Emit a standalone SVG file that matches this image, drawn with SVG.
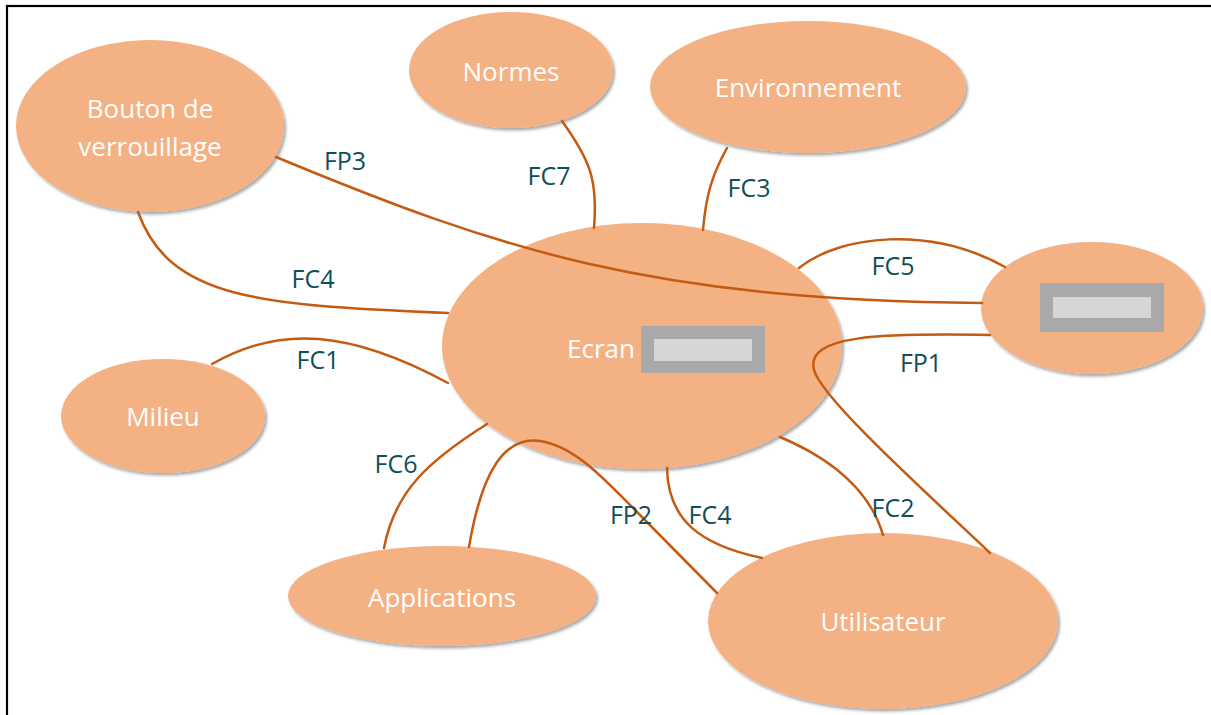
<svg xmlns="http://www.w3.org/2000/svg" width="1211" height="715" viewBox="0 0 1211 715">
  <defs>
    <filter id="shadow" x="-10%" y="-10%" width="125%" height="130%">
      <feDropShadow dx="2" dy="2.5" stdDeviation="1.8" flood-color="#000" flood-opacity="0.35"/>
    </filter>
  </defs>
  <style>
    .node ellipse { fill: #F4B183; filter: url(#shadow); }
    .node text { fill: #FFFFFF; font-family: "Open Sans", "Liberation Sans", sans-serif; font-size: 26px; text-anchor: middle; dominant-baseline: central; }
    .screen-outer { fill: #A9A9A9; }
    .screen-inner { fill: #D6D6D6; }
    .link { fill: none; stroke: #C55A11; stroke-width: 2.5; stroke-linecap: round; }
    .lbl { fill: #0E5057; font-family: "Open Sans", "Liberation Sans", sans-serif; font-size: 25px; text-anchor: middle; dominant-baseline: central; }
  </style>

  <rect width="1211" height="715" fill="#FFFFFF"/>
  <!-- page frame -->
  <rect x="7" y="6" width="1230" height="730" fill="none" stroke="#000" stroke-width="2.2"/>

  <g id="node-bouton" class="node">
    <ellipse cx="150" cy="126" rx="134" ry="86"/>
    <text x="150" y="108">Bouton de</text>
    <text x="150" y="146">verrouillage</text>
  </g>
  <g id="node-normes" class="node">
    <ellipse cx="511" cy="70" rx="102" ry="58"/>
    <text x="511" y="71">Normes</text>
  </g>
  <g id="node-environnement" class="node">
    <ellipse cx="808" cy="87" rx="158" ry="66"/>
    <text x="808" y="87">Environnement</text>
  </g>
  <g id="node-ecran" class="node">
    <ellipse cx="642" cy="346" rx="200" ry="123"/>
    <text x="601" y="348">Ecran</text>
    <rect class="screen-outer" x="641" y="326" width="124" height="47"/>
    <rect class="screen-inner" x="654" y="339" width="98" height="22"/>
  </g>
  <g id="node-ecran-ext" class="node">
    <ellipse cx="1092" cy="308" rx="111" ry="66"/>
    <rect class="screen-outer" x="1040" y="283" width="124" height="49"/>
    <rect class="screen-inner" x="1053" y="297" width="98" height="21"/>
  </g>
  <g id="node-milieu" class="node">
    <ellipse cx="163" cy="416" rx="102" ry="57"/>
    <text x="163" y="416">Milieu</text>
  </g>
  <g id="node-applications" class="node">
    <ellipse cx="442" cy="596" rx="154" ry="50"/>
    <text x="442" y="597">Applications</text>
  </g>
  <g id="node-utilisateur" class="node">
    <ellipse cx="883" cy="621" rx="175" ry="88"/>
    <text x="883" y="621">Utilisateur</text>
  </g>

  <g id="connectors">
    <!-- FP3 -->
    <path class="link" d="M276,157 C500,250 650,300 982,303"/>
    <!-- FC4 bouton / ecran -->
    <path class="link" d="M138,212 C170,300 260,305 448,313"/>
    <!-- FC1 -->
    <path class="link" d="M212,364 C280,325 350,330 448,383"/>
    <!-- FC7 -->
    <path class="link" d="M562,121 C590,160 598,180 594,228"/>
    <!-- FC3 -->
    <path class="link" d="M727,148 C712,175 706,195 703,230"/>
    <!-- FC5 -->
    <path class="link" d="M799,268 C840,235 930,225 1005,267"/>
    <!-- FP1 -->
    <path class="link" d="M990,335 C880,333 805,335 814,370 C822,400 940,505 990,553"/>
    <!-- FC2 -->
    <path class="link" d="M780,437 C830,458 870,490 883,535"/>
    <!-- FC4 ecran / utilisateur -->
    <path class="link" d="M667,468 C668,520 700,545 762,558"/>
    <!-- FP2 -->
    <path class="link" d="M469,547 C482,470 505,436 540,441 C575,446 605,480 640,515 L717,593"/>
    <!-- FC6 -->
    <path class="link" d="M487,424 C430,460 395,490 384,548"/>
  </g>

  <g id="labels">
    <text class="lbl" x="345" y="160">FP3</text>
    <text class="lbl" x="549" y="175">FC7</text>
    <text class="lbl" x="749" y="187">FC3</text>
    <text class="lbl" x="313" y="278">FC4</text>
    <text class="lbl" x="893" y="265">FC5</text>
    <text class="lbl" x="318" y="359">FC1</text>
    <text class="lbl" x="921" y="362">FP1</text>
    <text class="lbl" x="396" y="463">FC6</text>
    <text class="lbl" x="631" y="514">FP2</text>
    <text class="lbl" x="710" y="514">FC4</text>
    <text class="lbl" x="893" y="507">FC2</text>
  </g>
</svg>
